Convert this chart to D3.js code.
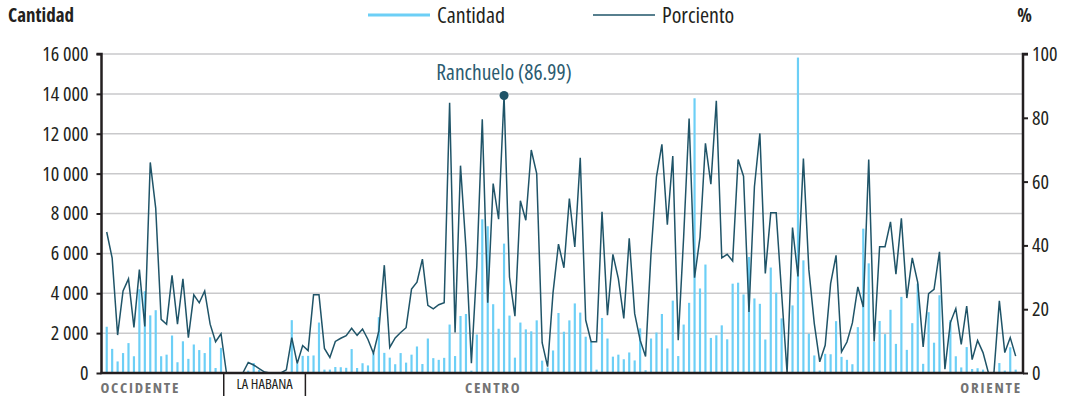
<!DOCTYPE html>
<html>
<head>
<meta charset="utf-8">
<script src="https://cdn.jsdelivr.net/npm/d3@7"></script>
<style>
  body { margin: 0; background: #fff; }
  svg text { font-family: "Open Sans", sans-serif; font-stretch: 75%; }
</style>
</head>
<body>
<svg id="chart" width="1091" height="401"></svg>
<script>
// Cantidad por municipio (168), de occidente a oriente
const cantidad = [
  2320, 1210, 580, 1000, 1500, 840, 4200, 4100, 2890, 3150,
  840, 920, 1880, 540, 1590, 710, 1430, 1150, 1000, 1790,
  250, 1260, 0, 0, 0, 0, 120, 500, 150, 0,
  0, 0, 0, 60, 2650, 480, 860, 860, 880, 2530,
  170, 170, 300, 290, 260, 1200, 250, 490, 380, 1000,
  2800, 1010, 770, 440, 1000, 520, 920, 1330, 450, 1730,
  745, 660, 760, 2430, 850, 2860, 2960, 120, 1930, 7710,
  7360, 3450, 2220, 6490, 2880, 770, 2530, 2190, 2090, 2640,
  620, 280, 1130, 3010, 2070, 2640, 3490, 3030, 1820, 1550,
  170, 2760, 1730, 820, 920, 690, 1030, 630, 2240, 140,
  1730, 2030, 2960, 1230, 3630, 850, 2430, 3520, 13780, 4240,
  5440, 1760, 1890, 2390, 1690, 4480, 4530, 3940, 5820, 3740,
  3470, 1680, 5290, 4030, 2740, 0, 3390, 15820, 5650, 1970,
  880, 125, 960, 940, 2600, 810, 660, 440, 2300, 7240,
  5500, 1560, 2610, 1950, 3170, 1460, 3820, 1160, 2500, 4480,
  460, 3050, 1520, 3900, 0, 2650, 840, 280, 1300, 200,
  240, 170, 0, 0, 500, 120, 1290, 170
];

const porciento = [
  44.2, 36.0, 11.9, 25.7, 29.5, 14.3, 32.4, 14.6, 66.0, 51.7,
  16.8, 15.3, 30.6, 15.3, 29.5, 11.1, 24.5, 22.0, 25.7, 15.3,
  9.8, 12.3, 0, 0, 0, 0, 3.3, 2.5, 1.4, 0.3,
  0, 0, 0, 1.0, 11.1, 3.0, 8.6, 7.0, 24.5, 24.5,
  7.7, 4.9, 9.9, 10.9, 11.7, 14.0, 11.8, 13.8, 10.5, 6.2,
  13.2, 33.8, 8.0, 11.0, 12.7, 14.2, 26.3, 28.5, 35.7, 21.2,
  20.1, 21.4, 22.0, 84.7, 12.7, 65.0, 39.2, 3.1, 33.7, 79.5,
  22.0, 59.4, 48.2, 86.99, 30.1, 17.8, 54.0, 47.9, 69.9, 62.5,
  9.5, 2.0, 25.2, 40.4, 33.0, 54.7, 39.5, 67.5, 16.6, 9.8,
  9.8, 50.5, 18.1, 37.2, 29.6, 17.1, 42.2, 18.6, 10.3, 5.2,
  37.4, 61.5, 71.7, 46.5, 68.0, 10.3, 42.7, 79.8, 29.9, 42.5,
  72.0, 59.2, 85.3, 36.1, 37.2, 35.1, 66.9, 61.7, 19.1, 58.4,
  75.1, 31.2, 50.2, 50.2, 24.9, 0, 45.6, 30.3, 67.2, 32.4,
  15.5, 3.5, 8.7, 28.0, 36.9, 6.6, 9.7, 15.7, 27.0, 20.7,
  66.9, 9.9, 39.6, 39.6, 47.4, 31.0, 48.5, 23.5, 36.1, 28.4,
  8.2, 24.9, 26.2, 38.0, 1.2, 15.8, 20.2, 9.0, 21.0, 4.2,
  10.2, 6.4, 0, 0, 22.6, 6.4, 11.1, 5.3
];

const cantidadTicks = [0, 2000, 4000, 6000, 8000, 10000, 12000, 14000, 16000];
const porcientoTicks = [0, 20, 40, 60, 80, 100];

// regiones: nombre, primer índice, último índice
const regiones = ["OCCIDENTE", "LA HABANA", "CENTRO", "ORIENTE"];
const regionInicio = [0, 22, 37, 113];
const regionFin = [21, 36, 112, 167];

const destacado = { indice: 73, nombre: "Ranchuelo" };

const lightBlue = "#6ccff6";
const darkTeal = "#1f5468";

const svg = d3.select("#chart");
const m = { left: 101.5, right: 1023, top: 54, bottom: 373 };

const idx = d3.range(cantidad.length);
const x = d3.scaleBand().domain(idx).range([104, 1018.4])
  .paddingInner(0.6).paddingOuter(0.3);
const cx = i => x(i) + x.bandwidth() / 2;

const yL = d3.scaleLinear().domain([0, 16000]).range([m.bottom, m.top]);
const yR = d3.scaleLinear().domain([0, 100]).range([m.bottom, m.top]);

// gridlines
svg.append("g").selectAll("line")
  .data(cantidadTicks.filter(d => d > 0))
  .join("line")
  .attr("x1", m.left).attr("x2", m.right)
  .attr("y1", d => yL(d)).attr("y2", d => yL(d))
  .attr("stroke", "#c9c9cb").attr("stroke-width", 1.5);

// bars
svg.append("g").selectAll("rect")
  .data(cantidad)
  .join("rect")
  .attr("x", (d, i) => x(i))
  .attr("width", x.bandwidth())
  .attr("y", d => yL(d))
  .attr("height", d => m.bottom - yL(d))
  .attr("fill", lightBlue);

// line
const line = d3.line().x((d, i) => cx(i)).y(d => yR(d));
svg.append("path")
  .datum(porciento)
  .attr("d", line)
  .attr("fill", "none")
  .attr("stroke", darkTeal)
  .attr("stroke-width", 1.5)
  .attr("stroke-linejoin", "miter");

// axes
const fmt = d => d3.format(",")(d).replace(/,/g, " ");
const axL = svg.append("g")
  .attr("transform", `translate(${m.left},0)`)
  .call(d3.axisLeft(yL).tickValues(cantidadTicks).tickFormat(fmt).tickSize(5).tickPadding(8));
const axR = svg.append("g")
  .attr("transform", `translate(${m.right},0)`)
  .call(d3.axisRight(yR).tickValues(porcientoTicks).tickSize(5).tickPadding(4));

[axL, axR].forEach(ax => {
  ax.select(".domain").attr("stroke", "#231f20").attr("stroke-width", 2.5)
    .attr("d", ax === axL ? `M-5,${m.top}H0V${m.bottom}` : `M5,${m.top}H0V${m.bottom}`);
  ax.selectAll(".tick line").attr("stroke", "#231f20").attr("stroke-width", 2);
  ax.selectAll(".tick text").attr("font-size", 20).attr("fill", "#231f20")
    .attr("font-family", null);
});

// baseline
svg.append("line")
  .attr("x1", m.left - 1).attr("x2", m.right + 1)
  .attr("y1", m.bottom).attr("y2", m.bottom)
  .attr("stroke", "#231f20").attr("stroke-width", 2.5);

// region separators and labels
const sepX = regionInicio.slice(1, 3).map(i => (cx(i - 1) + cx(i)) / 2);
svg.append("g").selectAll("line")
  .data(sepX)
  .join("line")
  .attr("x1", d => d).attr("x2", d => d)
  .attr("y1", m.bottom).attr("y2", 396)
  .attr("stroke", "#231f20").attr("stroke-width", 1.5);

const regionLabel = svg.append("g");
regionLabel.append("text").text(regiones[0])
  .attr("x", m.left - 1).attr("y", 393)
  .attr("font-size", 15).attr("font-weight", "bold").attr("letter-spacing", 1.7)
  .attr("fill", "#737373");
regionLabel.append("text").text(regiones[1])
  .attr("x", (sepX[0] + sepX[1]) / 2).attr("y", 389)
  .attr("text-anchor", "middle")
  .attr("font-size", 14.5).attr("fill", "#231f20");
regionLabel.append("text").text(regiones[2])
  .attr("x", cx(71)).attr("y", 393)
  .attr("text-anchor", "middle")
  .attr("font-size", 15).attr("font-weight", "bold").attr("letter-spacing", 1.7)
  .attr("fill", "#737373");
regionLabel.append("text").text(regiones[3])
  .attr("x", m.right - 1).attr("y", 393)
  .attr("text-anchor", "end")
  .attr("font-size", 15).attr("font-weight", "bold").attr("letter-spacing", 1.8)
  .attr("fill", "#737373");

// highlight
const hv = porciento[destacado.indice];
svg.append("circle")
  .attr("cx", cx(destacado.indice)).attr("cy", yR(hv))
  .attr("r", 4.5).attr("fill", darkTeal);
svg.append("text")
  .text(`${destacado.nombre} (${hv.toFixed(2)})`)
  .attr("x", cx(destacado.indice)).attr("y", 80)
  .attr("text-anchor", "middle")
  .attr("font-size", 21.5).attr("fill", "#2b5b70");

// titles
svg.append("text").text("Cantidad")
  .attr("x", 8).attr("y", 22)
  .attr("font-size", 19).attr("font-weight", "bold").attr("fill", "#231f20");
svg.append("text").text("%")
  .attr("x", 1032).attr("y", 22)
  .attr("text-anchor", "end")
  .attr("font-size", 19).attr("font-weight", "bold").attr("fill", "#231f20");

// legend
const legend = svg.append("g");
const legendItems = [
  { label: "Cantidad", color: lightBlue, w: 3, x: 368 },
  { label: "Porciento", color: darkTeal, w: 1.5, x: 593 }
];
const li = legend.selectAll("g").data(legendItems).join("g")
  .attr("transform", d => `translate(${d.x},15)`);
li.append("line").attr("x1", 0).attr("x2", 62)
  .attr("stroke", d => d.color).attr("stroke-width", d => d.w);
li.append("text").text(d => d.label)
  .attr("x", 69).attr("y", 8)
  .attr("font-size", 22).attr("fill", "#231f20");
</script>
</body>
</html>
